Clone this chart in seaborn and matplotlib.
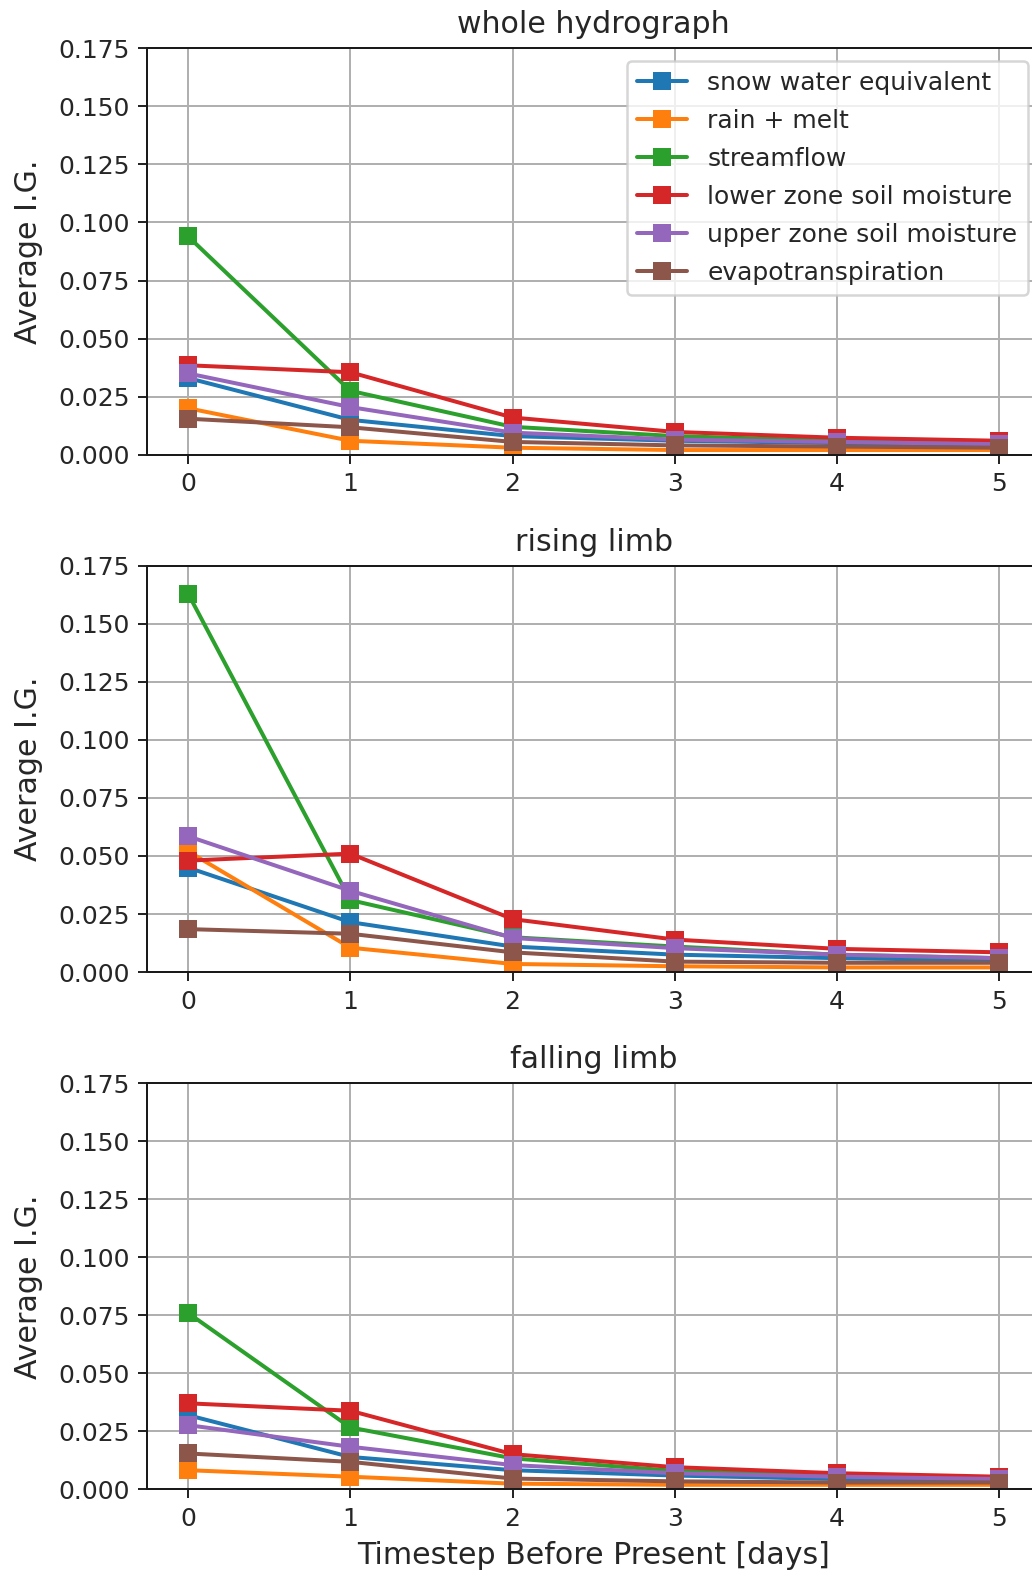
import numpy as np
import pandas as pd
import seaborn as sns
import matplotlib.pyplot as plt

# Average I.G. per lag
lags = [0, 1, 2, 3, 4, 5]
variables = ["snow water equivalent", "rain + melt", "streamflow",
             "lower zone soil moisture", "upper zone soil moisture",
             "evapotranspiration"]

whole_swe = [0.033, 0.015, 0.008, 0.006, 0.005, 0.004]
whole_rain = [0.020, 0.006, 0.003, 0.002, 0.002, 0.002]
whole_stream = [0.094, 0.0275, 0.012, 0.008, 0.006, 0.005]
whole_lzsm = [0.0385, 0.0355, 0.016, 0.0098, 0.0073, 0.006]
whole_uzsm = [0.035, 0.0205, 0.0095, 0.0065, 0.0055, 0.0045]
whole_et = [0.0155, 0.0118, 0.0055, 0.004, 0.0035, 0.003]

rising_swe = [0.045, 0.0215, 0.011, 0.0075, 0.006, 0.005]
rising_rain = [0.052, 0.0105, 0.0035, 0.0025, 0.002, 0.002]
rising_stream = [0.163, 0.031, 0.015, 0.011, 0.0075, 0.006]
rising_lzsm = [0.048, 0.051, 0.0228, 0.014, 0.010, 0.0085]
rising_uzsm = [0.0585, 0.035, 0.0147, 0.0103, 0.0075, 0.006]
rising_et = [0.0185, 0.0165, 0.0085, 0.0045, 0.004, 0.004]

falling_swe = [0.032, 0.014, 0.0083, 0.006, 0.0045, 0.004]
falling_rain = [0.0083, 0.0055, 0.0025, 0.002, 0.002, 0.002]
falling_stream = [0.076, 0.0267, 0.0134, 0.008, 0.006, 0.005]
falling_lzsm = [0.0371, 0.0339, 0.0152, 0.0096, 0.007, 0.0055]
falling_uzsm = [0.0277, 0.0184, 0.0105, 0.007, 0.0055, 0.0045]
falling_et = [0.0155, 0.0119, 0.0047, 0.0035, 0.003, 0.003]

panels = {
    "whole hydrograph": [whole_swe, whole_rain, whole_stream, whole_lzsm, whole_uzsm, whole_et],
    "rising limb": [rising_swe, rising_rain, rising_stream, rising_lzsm, rising_uzsm, rising_et],
    "falling limb": [falling_swe, falling_rain, falling_stream, falling_lzsm, falling_uzsm, falling_et],
}


def to_long(series):
    rows = []
    for name, vals in zip(variables, series):
        for lag, v in zip(lags, vals):
            rows.append({"lag": lag, "ig": v, "variable": name})
    return pd.DataFrame(rows)


sns.set_style("ticks")
plt.rcParams["font.family"] = ["DejaVu Sans"]
plt.rcParams["text.color"] = "0.15"
plt.rcParams["axes.labelcolor"] = "0.15"

fig, axes = plt.subplots(3, 1, figsize=(1032 / 180, 1577 / 180), dpi=180)
fig.subplots_adjust(left=0.1429, right=1.0078, top=0.9694, bottom=0.0555, hspace=0.273)

palette = sns.color_palette("tab10", 6)

for i, (ax, (title, series)) in enumerate(zip(axes, panels.items())):
    df = to_long(series)
    sns.lineplot(data=df, x="lag", y="ig", hue="variable", hue_order=variables,
                 palette=palette, marker="s", markersize=7, markeredgewidth=0,
                 linewidth=1.6, ax=ax, legend=(i == 0))
    ax.set_ylim(0, 0.175)
    ax.set_yticks(np.arange(0, 0.176, 0.025))
    ax.set_xticks(lags)
    ax.grid(True, color="#b0b0b0", linewidth=0.8)
    ax.set_title(title, fontsize=12, color="0.15")
    ax.set_ylabel("Average I.G.", fontsize=12, labelpad=6)
    ax.set_xlabel("")
    for s in ax.spines.values():
        s.set_color("0.1")
        s.set_linewidth(0.8)
    ax.tick_params(colors="0.15", labelsize=10, width=0.8, length=3.5)
    if i == 0:
        ax.legend(loc="upper right", fontsize=10, labelspacing=0.56, title=None)

axes[-1].set_xlabel("Timestep Before Present [days]", fontsize=12)

fig.savefig("out.png", dpi=180)
